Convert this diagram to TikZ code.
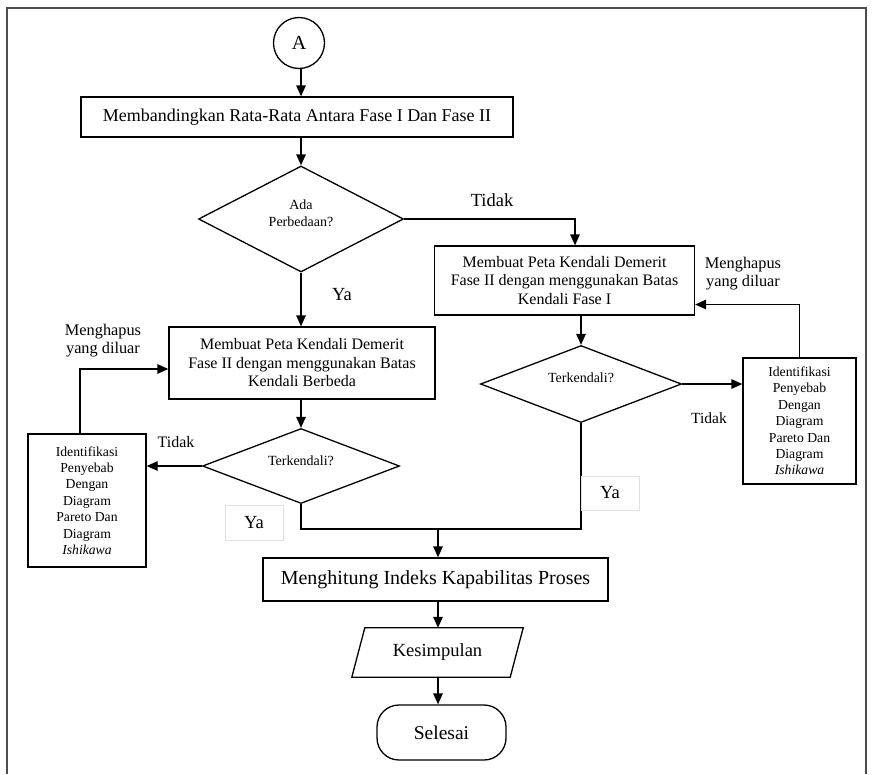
\documentclass[tikz,border=0pt]{standalone}
\usepackage{fontspec}
\setmainfont{Liberation Serif}
\usetikzlibrary{arrows.meta,shapes.geometric,calc}
\begin{document}
\begin{tikzpicture}[x=1pt,y=-1pt,
  lw/.style={line width=1.3pt},
  box/.style={draw, lw, rectangle, align=center, inner sep=0pt},
  dia/.style={draw, lw, diamond, inner sep=0pt},
  dtext/.style={align=center, inner sep=0pt, font=\fontsize{14}{16.5}\selectfont},
  arr/.style={lw, -{Triangle[length=11pt,width=9.5pt]}},
  ln/.style={lw},
  lab/.style={align=center, inner sep=0pt},
  yabox/.style={draw=black!12, line width=0.6pt, fill=white, inner sep=0pt, font=\fontsize{18.5}{20}\selectfont},
  body/.style={font=\fontsize{16}{18.5}\selectfont},
  small/.style={font=\fontsize{13.7}{16.4}\selectfont}
]
\useasboundingbox (0,0) rectangle (875,774);
% frame
\draw[line width=2pt, black!70] (7,774) -- (7,8) -- (866,8) -- (866,774);

% nodes
\node[draw, lw, circle, minimum size=51pt, inner sep=0pt, font=\fontsize{20}{22}\selectfont] (A) at (299,43) {A};
\node[box, minimum width=432pt, minimum height=40pt, font=\fontsize{18}{20}\selectfont] (r1) at (297,117) {Membandingkan Rata-Rata Antara Fase I Dan Fase II};
\node[dia, minimum width=205pt, minimum height=106pt] (d1) at (301,219) {};
\node[dtext] (d1t) at (301,213) {Ada\\Perbedaan?};
\node[box, body, minimum width=260pt, minimum height=69pt] (r2) at (564.5,280.5) {Membuat Peta Kendali Demerit\\Fase II dengan menggunakan Batas\\Kendali Fase I};
\node[dia, minimum width=201pt, minimum height=77pt] (d3) at (581,384) {};
\node[dtext] (d3t) at (581,378) {Terkendali?};
\node[box, small, minimum width=113pt, minimum height=126pt] (id2) at (799.5,421) {Identifikasi\\Penyebab\\Dengan\\Diagram\\Pareto Dan\\Diagram\\\textit{Ishikawa}};
\node[box, body, minimum width=266pt, minimum height=72pt] (r3) at (302,363) {Membuat Peta Kendali Demerit\\Fase II dengan menggunakan Batas\\Kendali Berbeda};
\node[dia, minimum width=197pt, minimum height=75pt] (d2) at (301,466) {};
\node[dtext] (d2t) at (301,461) {Terkendali?};
\node[box, small, minimum width=118pt, minimum height=133pt] (id1) at (87,500.5) {Identifikasi\\Penyebab\\Dengan\\Diagram\\Pareto Dan\\Diagram\\\textit{Ishikawa}};
\node[box, minimum width=345pt, minimum height=43pt, font=\fontsize{20}{22}\selectfont] (r4) at (435.5,579.5) {Menghitung Indeks Kapabilitas Proses};
\node[minimum width=158pt, minimum height=49pt, inner sep=0pt, font=\fontsize{18.5}{20}\selectfont] (p) at (437.5,652.5) {Kesimpulan};
\draw[lw] ($(p.south west)+(-6.5,0)$) -- ($(p.north west)+(6.5,0)$) -- ($(p.north east)+(6.5,0)$) -- ($(p.south east)+(-6.5,0)$) -- cycle;
\node[draw, lw, rounded corners=22pt, minimum width=129pt, minimum height=55pt, inner sep=0pt, font=\fontsize{19.5}{21}\selectfont] (s) at (441.5,732.5) {Selesai};

% labels
\node[lab, font=\fontsize{18.5}{20}\selectfont] (t1) at (492,200) {Tidak};
\node[lab, font=\fontsize{18.5}{20}\selectfont] (y1) at (342,295) {Ya};
\node[lab, font=\fontsize{16.3}{18}\selectfont] (h2) at (743,274) {Menghapus\\yang diluar};
\node[lab, font=\fontsize{15.5}{18}\selectfont] (t3) at (709,418) {Tidak};
\node[lab, font=\fontsize{16.3}{18}\selectfont] (h1) at (103,341) {Menghapus\\yang diluar};
\node[lab, font=\fontsize{16}{18}\selectfont] (t2) at (176,442) {Tidak};

\coordinate (m) at (438,529);

% connectors
\draw[arr] (A.south -| d1.north) -- (d1.north |- r1.north);
\draw[arr] (d1.north |- r1.south) -- (d1.north);
\draw[arr] (d1.east) -| ([xshift=10.5pt]r2.north);
\draw[arr] (d1.south) -- (d1.south |- r3.north);
\draw[arr] (d3.north |- r2.south) -- (d3.north);
\draw[arr] (d3.east) -- (d3.east -| id2.west);
\draw[arr] (id2.north) |- ([yshift=-24pt]r2.east);
\draw[ln] (d3.south) |- (m);
\draw[arr] (d2.north |- r3.south) -- (d2.north);
\draw[arr] (d2.west) -- (d2.west -| id1.east);
\draw[arr] ([xshift=-7pt]id1.north) |- ([yshift=-6pt]r3.west);
\draw[ln] (d2.south) |- (m);
\draw[arr] (m) -- (m |- r4.north);
\draw[arr] (m |- r4.south) -- (m |- p.north);
\draw[arr] (m |- p.south) -- (m |- s.north);

% Ya boxes
\node[yabox, minimum width=58pt, minimum height=35pt] (y2) at (254,522.5) {Ya};
\node[yabox, minimum width=58pt, minimum height=34pt] (y3) at (610,493) {Ya};
\end{tikzpicture}
\end{document}
